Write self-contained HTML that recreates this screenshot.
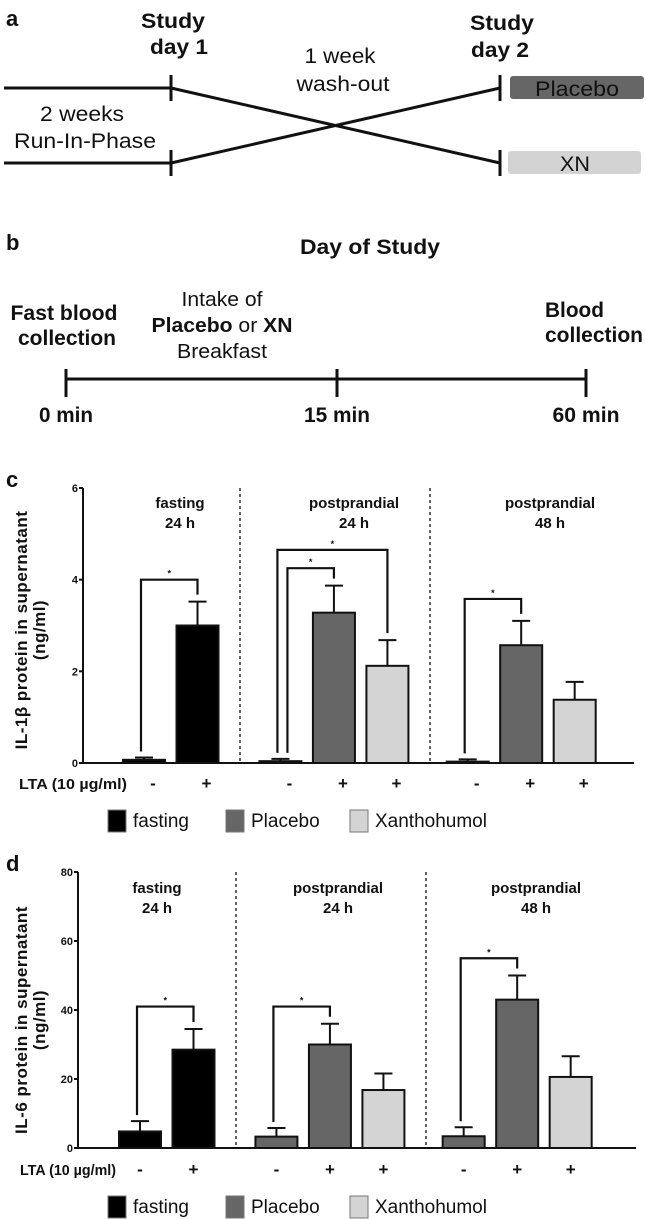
<!DOCTYPE html>
<html><head><meta charset="utf-8">
<style>
html,body{margin:0;padding:0;background:#fff;}
svg{display:block;}
text{font-family:"Liberation Sans",sans-serif;fill:#111;}
.b{font-weight:bold;}
.lab{font-family:"Liberation Sans",sans-serif;font-weight:bold;}
</style></head>
<body>
<svg id="fig" width="646" height="1219" viewBox="0 0 646 1219" xmlns="http://www.w3.org/2000/svg">
<g>
<text x="6" y="26" class="lab" font-size="22">a</text>
<text x="173" y="28" class="b" font-size="21" text-anchor="middle" textLength="64" lengthAdjust="spacingAndGlyphs">Study</text>
<text x="179" y="54" class="b" font-size="21" text-anchor="middle" textLength="58" lengthAdjust="spacingAndGlyphs">day 1</text>
<text x="502" y="30" class="b" font-size="21" text-anchor="middle" textLength="64" lengthAdjust="spacingAndGlyphs">Study</text>
<text x="500" y="57" class="b" font-size="21" text-anchor="middle" textLength="58" lengthAdjust="spacingAndGlyphs">day 2</text>
<text x="340" y="63" font-size="21" text-anchor="middle" textLength="71" lengthAdjust="spacingAndGlyphs">1 week</text>
<text x="343" y="91" font-size="21" text-anchor="middle" textLength="93" lengthAdjust="spacingAndGlyphs">wash-out</text>
<text x="82" y="121" font-size="21" text-anchor="middle" textLength="84" lengthAdjust="spacingAndGlyphs">2 weeks</text>
<text x="85" y="148" font-size="21" text-anchor="middle" textLength="142" lengthAdjust="spacingAndGlyphs">Run-In-Phase</text>
<g stroke="#111" stroke-width="3" fill="none">
<line x1="4" y1="88" x2="171" y2="88"/>
<line x1="4" y1="163" x2="171" y2="163"/>
<line x1="171" y1="75" x2="171" y2="101"/>
<line x1="171" y1="150" x2="171" y2="176"/>
<line x1="500" y1="75" x2="500" y2="101"/>
<line x1="500" y1="150" x2="500" y2="176"/>
<line x1="171" y1="88" x2="500" y2="163"/>
<line x1="171" y1="163" x2="500" y2="88"/>
</g>
<rect x="510" y="76" width="134" height="23" rx="3" fill="#666"/>
<text x="577" y="96" font-size="21" text-anchor="middle" textLength="84" lengthAdjust="spacingAndGlyphs">Placebo</text>
<rect x="508" y="151" width="133" height="23" rx="3" fill="#d3d3d3"/>
<text x="575" y="171" font-size="21" text-anchor="middle" textLength="30" lengthAdjust="spacingAndGlyphs">XN</text>
</g>
<g>
<text x="6" y="250" class="lab" font-size="22">b</text>
<text x="370" y="254" class="b" font-size="21" text-anchor="middle" textLength="140" lengthAdjust="spacingAndGlyphs">Day of Study</text>
<text x="64" y="320" class="b" font-size="21" text-anchor="middle" textLength="107" lengthAdjust="spacingAndGlyphs">Fast blood</text>
<text x="67" y="345" class="b" font-size="21" text-anchor="middle" textLength="98" lengthAdjust="spacingAndGlyphs">collection</text>
<text x="222" y="306" font-size="20" text-anchor="middle" textLength="81" lengthAdjust="spacingAndGlyphs">Intake of</text>
<text x="222" y="332" font-size="20" text-anchor="middle" textLength="141" lengthAdjust="spacingAndGlyphs"><tspan class="b">Placebo</tspan> or <tspan class="b">XN</tspan></text>
<text x="222" y="358" font-size="20" text-anchor="middle" textLength="90" lengthAdjust="spacingAndGlyphs">Breakfast</text>
<text x="545" y="317" class="b" font-size="21" textLength="59" lengthAdjust="spacingAndGlyphs">Blood</text>
<text x="545" y="342" class="b" font-size="21" textLength="98" lengthAdjust="spacingAndGlyphs">collection</text>
<g stroke="#111" stroke-width="3">
<line x1="66" y1="379" x2="586" y2="379"/>
<line x1="66" y1="369" x2="66" y2="397"/>
<line x1="337" y1="369" x2="337" y2="397"/>
<line x1="586" y1="369" x2="586" y2="397"/>
</g>
<text x="66" y="422" class="b" font-size="21" text-anchor="middle" textLength="54" lengthAdjust="spacingAndGlyphs">0 min</text>
<text x="337" y="422" class="b" font-size="21" text-anchor="middle" textLength="66" lengthAdjust="spacingAndGlyphs">15 min</text>
<text x="586" y="422" class="b" font-size="21" text-anchor="middle" textLength="67" lengthAdjust="spacingAndGlyphs">60 min</text>
</g>
<g id="panelC"></g>
<g id="panelD"></g>
</svg>
<script>
const groupNames = ["fasting\n24 h", "postprandial\n24 h", "postprandial\n48 h"];
const barSigns = ["-", "+", "-", "+", "+", "-", "+", "+"];
const barSeries = ["fasting", "fasting", "placebo", "placebo", "xanthohumol", "placebo", "placebo", "xanthohumol"];
const legendLabels = ["fasting", "Placebo", "Xanthohumol"];
const cValues = [0.07, 3.0, 0.04, 3.28, 2.12, 0.03, 2.57, 1.38];
const cErrors = [0.05, 0.52, 0.05, 0.59, 0.56, 0.05, 0.53, 0.39];
const cTicks = [0, 2, 4, 6];
const dValues = [4.8, 28.5, 3.3, 30, 16.8, 3.4, 43, 20.6];
const dErrors = [3.0, 6.0, 2.5, 6.0, 4.8, 2.6, 7.0, 6.0];
const dTicks = [0, 20, 40, 60, 80];
const cBrackets = [[0, 1], [2, 4], [2, 3], [5, 6]];
const dBrackets = [[0, 1], [2, 3], [5, 6]];

const NS = "http://www.w3.org/2000/svg";
const fills = {fasting: "#000", placebo: "#666", xanthohumol: "#d4d4d4"};
function mk(parent, tag, attrs, txt) {
  const e = document.createElementNS(NS, tag);
  for (const k in attrs) e.setAttribute(k, attrs[k]);
  if (txt !== undefined) e.textContent = txt;
  parent.appendChild(e);
  return e;
}
function draw(cfg) {
  const g = document.getElementById(cfg.id);
  const y = v => cfg.y0 - (v / cfg.max) * (cfg.y0 - cfg.yTop);
  const slots = [0, 1, 2.55, 3.55, 4.55, 6.05, 7.05, 8.05];
  const x = i => cfg.x0 + slots[i] * 53.5;
  const bw = 44;
  const pl = mk(g, "text", {x: 6, y: cfg.yTop - 1, "font-size": 22, class: "lab"}, cfg.letter);
  
  
  const t = mk(g, "text", {transform: `translate(27,${cfg.titleY}) rotate(-90)`, "text-anchor": "middle", "font-size": 17, "letter-spacing": "0.5", class: "lab"}, cfg.title);
  
  
  const t2 = mk(g, "text", {transform: `translate(45,${cfg.titleY}) rotate(-90)`, "text-anchor": "middle", "font-size": 17, "letter-spacing": "0.5", class: "lab"}, "(ng/ml)");
  
  
  const ya = mk(g, "line", {x1: cfg.ax, y1: cfg.yTop, x2: cfg.ax, y2: cfg.y0, stroke: "#111", "stroke-width": 2});
  
  
  cfg.ticks.forEach(v => {
    mk(g, "line", {x1: cfg.ax - 4, y1: y(v), x2: cfg.ax, y2: y(v), stroke: "#111", "stroke-width": 2});
    const tl = mk(g, "text", {x: cfg.ax - 5, y: y(v) + 4, "text-anchor": "end", "font-size": 11, class: "lab"}, v);
    
    
  });
  cfg.seps.forEach(sx => {
    const s = mk(g, "line", {x1: sx, y1: cfg.yTop, x2: sx, y2: cfg.y0, stroke: "#111", "stroke-width": 1.3, "stroke-dasharray": "3,3"});
    
    
  });
  groupNames.forEach((n, i) => {
    const lines = n.split("\n");
    lines.forEach((ln, j) => {
      const h = mk(g, "text", {x: cfg.hx[i], y: cfg.hy + j * 20, "text-anchor": "middle", "font-size": 15, class: "lab"}, ln);
      
      
    });
  });
  cfg.vals.forEach((v, i) => {
    const cx = x(i) + bw / 2;
    const top = y(v), etop = y(v + cfg.errs[i]);
    const el = mk(g, "line", {x1: cx, y1: top, x2: cx, y2: etop, stroke: "#111", "stroke-width": 2});
    
    
    mk(g, "line", {x1: cx - 9, y1: etop, x2: cx + 9, y2: etop, stroke: "#111", "stroke-width": 2});
    const b = mk(g, "rect", {x: x(i) + 1, y: top, width: bw - 2, height: Math.max(cfg.y0 - top, 1), fill: fills[cfg.series[i]], stroke: "#111", "stroke-width": 2});
    
    
    const sg = mk(g, "text", {x: cx + cfg.signOff, y: cfg.ltaY + 6, "text-anchor": "middle", "font-size": 17, class: "lab"}, barSigns[i]);
    
    
  });
  const xa = mk(g, "line", {x1: cfg.ax, y1: cfg.y0, x2: cfg.axEnd, y2: cfg.y0, stroke: "#111", "stroke-width": 2});
  
  
  cfg.brackets.forEach(([a, b2], k) => {
    const xa1 = x(a) + bw / 2 - 3 + (k === 2 && cfg.letter === "c" ? 10 : 0);
    const xb = x(b2) + bw / 2;
    const yt = y(cfg.brTop[k]);
    const pts = `${xa1},${y(cfg.vals[a] + cfg.errs[a]) - 6} ${xa1},${yt} ${xb},${yt} ${xb},${y(cfg.vals[b2] + cfg.errs[b2]) - 7}`;
    const p = mk(g, "polyline", {points: pts, fill: "none", stroke: "#111", "stroke-width": 2.2});
    
    
    const st = mk(g, "text", {x: (xa1 + xb) / 2, y: yt - 3, "text-anchor": "middle", "font-size": 9, class: "lab"}, "*");
    
    
  });
  const lta = mk(g, "text", {x: cfg.ltaX, y: cfg.ltaY + 6, "font-size": 15, class: "lab", textLength: cfg.ltaW, lengthAdjust: "spacingAndGlyphs"}, "LTA (10 \u00b5g/ml)");
  
  
  const lx = [108, 226, 350];
  const lf = ["#000", "#666", "#d4d4d4"];
  legendLabels.forEach((l, i) => {
    const r = mk(g, "rect", {x: lx[i], y: cfg.legY - 10, width: 18, height: 22, fill: lf[i], stroke: "#777", "stroke-width": 1});
    
    
    const lt = mk(g, "text", {x: lx[i] + 25, y: cfg.legY + 7, "font-size": 19}, l);
    
    
  });
}
draw({id: "panelC", letter: "c", x0: 122, ax: 83, axEnd: 634, yTop: 488, y0: 763, max: 6, ticks: cTicks,
  vals: cValues, errs: cErrors, series: ["fasting","fasting","placebo","placebo","xanthohumol","placebo","placebo","xanthohumol"],
  seps: [240, 430], hx: [180, 354, 550], hy: 508, ltaY: 783, ltaX: 19, ltaW: 108, legY: 820, titleY: 630,
  title: "IL-1\u03b2 protein in supernatant", brackets: cBrackets, brTop: [4.0, 4.65, 4.25, 3.58], signOff: 9});
draw({id: "panelD", letter: "d", x0: 118, ax: 78, axEnd: 636, yTop: 872, y0: 1148, max: 80, ticks: dTicks,
  vals: dValues, errs: dErrors, series: barSeries,
  seps: [236, 426], hx: [157, 338, 536], hy: 893, ltaY: 1169, ltaX: 20, ltaW: 96, legY: 1206, titleY: 1020,
  title: "IL-6 protein in supernatant", brackets: dBrackets, brTop: [41, 41, 55], signOff: 0});
</script>
</body></html>
